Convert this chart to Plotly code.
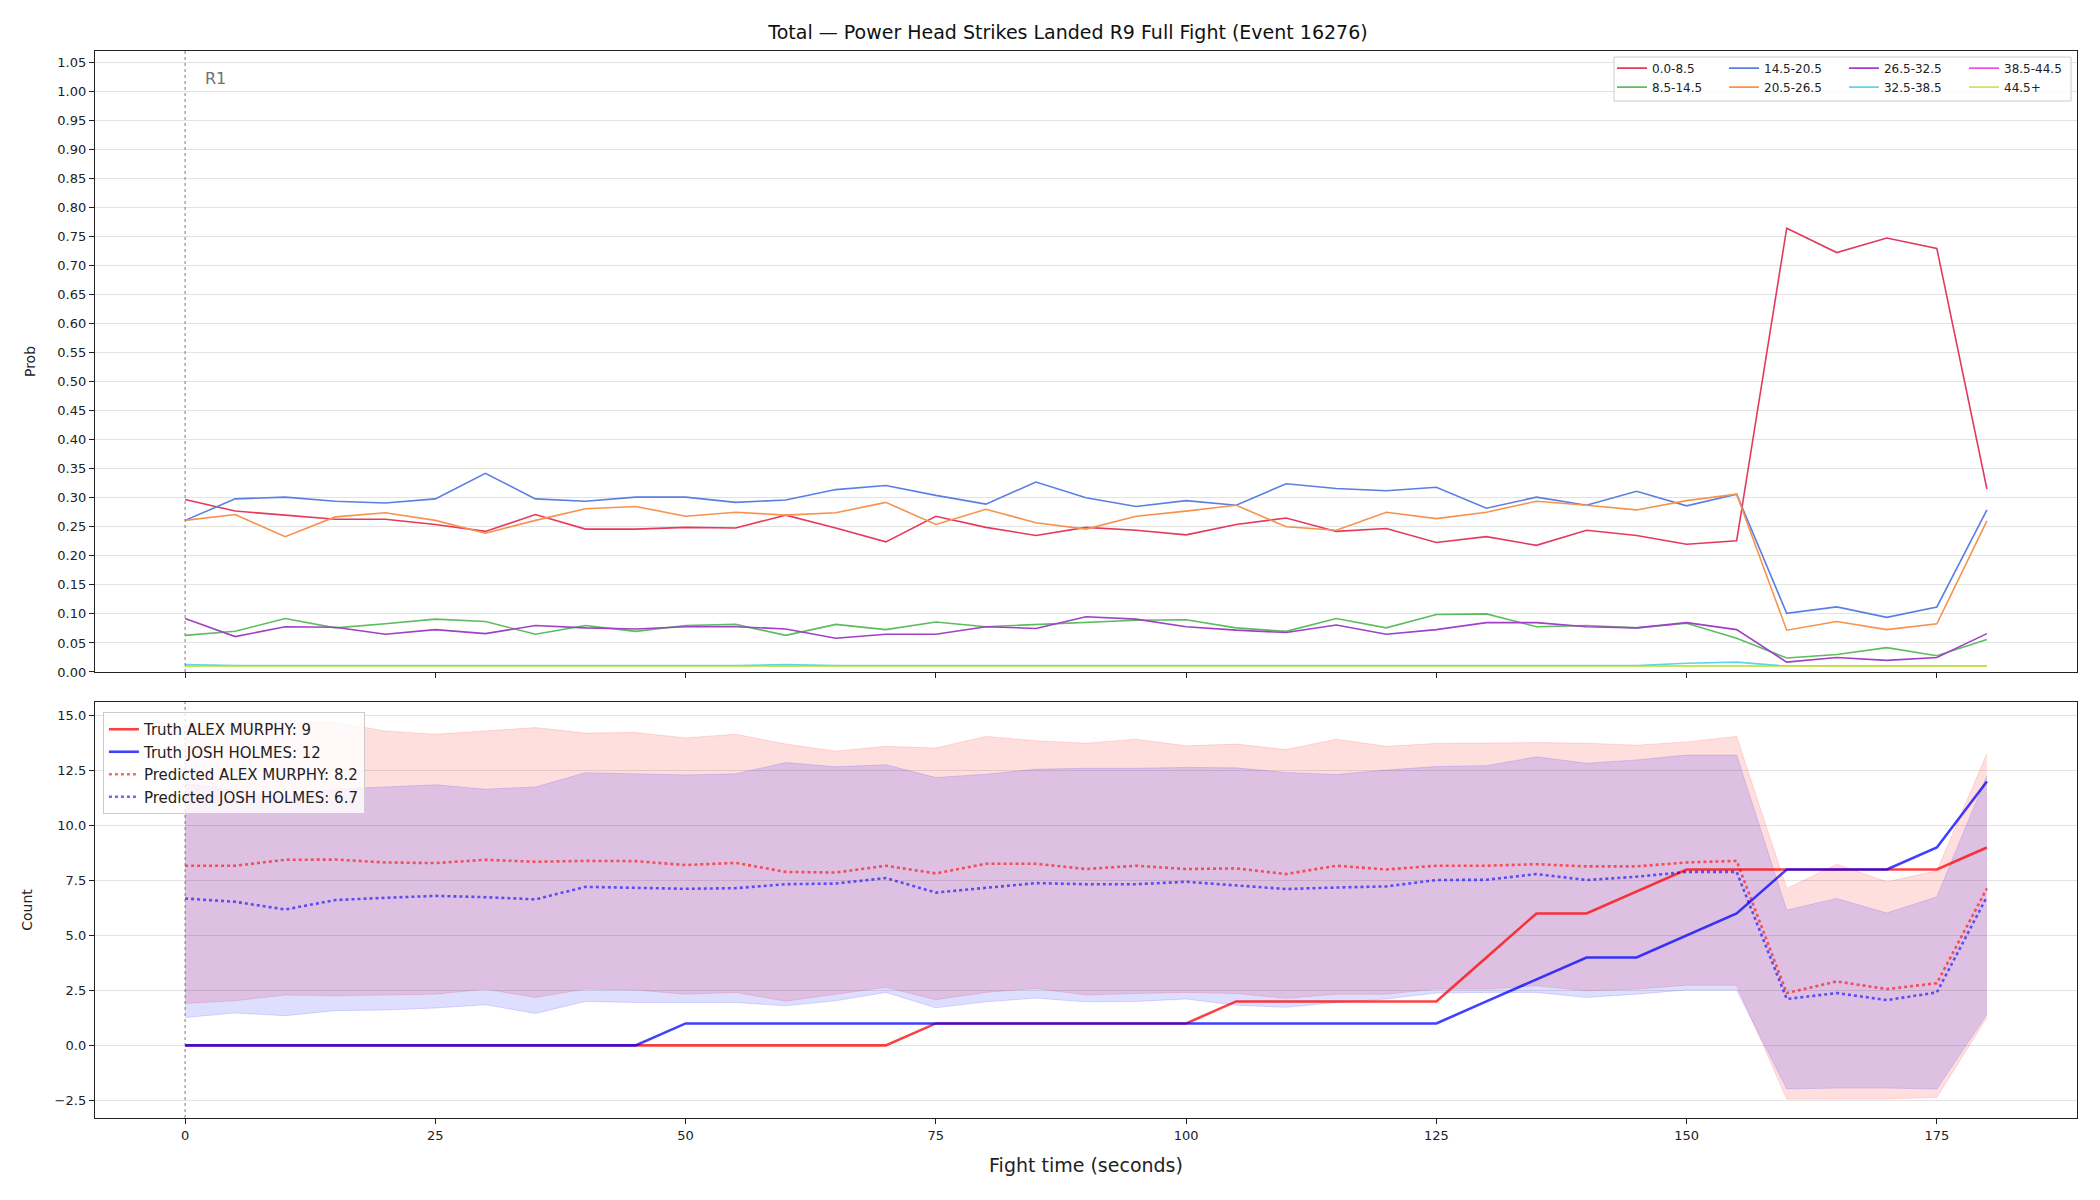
import plotly.graph_objects as go

# ---------------- data ----------------
time_s = list(range(0, 181, 5))

bin_labels = ["0.0-8.5", "8.5-14.5", "14.5-20.5", "20.5-26.5",
              "26.5-32.5", "32.5-38.5", "38.5-44.5", "44.5+"]

prob_0_8 = [0.297, 0.277, 0.270, 0.263, 0.263, 0.254, 0.242, 0.271, 0.246, 0.246, 0.249, 0.248, 0.270,
            0.248, 0.224, 0.268, 0.249, 0.235, 0.249, 0.244, 0.236, 0.254, 0.265, 0.242, 0.247, 0.223,
            0.233, 0.218, 0.244, 0.235, 0.220, 0.226, 0.764, 0.722, 0.747, 0.729, 0.315]
prob_8_14 = [0.063, 0.070, 0.092, 0.076, 0.083, 0.091, 0.087, 0.065, 0.080, 0.070, 0.080, 0.082, 0.063,
             0.082, 0.073, 0.086, 0.078, 0.082, 0.085, 0.089, 0.090, 0.076, 0.070, 0.092, 0.076, 0.099,
             0.100, 0.078, 0.080, 0.076, 0.084, 0.058, 0.024, 0.030, 0.042, 0.028, 0.056]
prob_14_20 = [0.261, 0.298, 0.301, 0.294, 0.291, 0.298, 0.342, 0.298, 0.294, 0.301, 0.301, 0.292, 0.296,
              0.314, 0.321, 0.304, 0.289, 0.327, 0.300, 0.285, 0.295, 0.287, 0.324, 0.316, 0.312, 0.318,
              0.282, 0.301, 0.287, 0.311, 0.286, 0.306, 0.101, 0.112, 0.094, 0.112, 0.279]
prob_20_26 = [0.261, 0.271, 0.233, 0.267, 0.274, 0.261, 0.239, 0.261, 0.281, 0.285, 0.268, 0.275, 0.270,
              0.274, 0.292, 0.254, 0.280, 0.257, 0.246, 0.268, 0.277, 0.287, 0.250, 0.244, 0.275, 0.264,
              0.275, 0.294, 0.287, 0.279, 0.295, 0.306, 0.072, 0.087, 0.073, 0.083, 0.260]
prob_26_32 = [0.092, 0.061, 0.078, 0.077, 0.065, 0.073, 0.066, 0.080, 0.076, 0.074, 0.078, 0.078, 0.074,
              0.058, 0.065, 0.065, 0.078, 0.075, 0.095, 0.091, 0.078, 0.072, 0.068, 0.081, 0.065, 0.073,
              0.085, 0.085, 0.078, 0.076, 0.085, 0.073, 0.017, 0.025, 0.020, 0.025, 0.066]
prob_32_38 = [0.013, 0.011, 0.011, 0.011, 0.011, 0.011, 0.011, 0.011, 0.011, 0.011, 0.011, 0.011, 0.013,
              0.011, 0.011, 0.011, 0.011, 0.011, 0.011, 0.011, 0.011, 0.011, 0.011, 0.011, 0.011, 0.011,
              0.011, 0.011, 0.011, 0.011, 0.015, 0.017, 0.010, 0.010, 0.010, 0.010, 0.010]
prob_38_44 = [0.010] * 37
prob_44_plus = [0.010] * 37

prob_series = [prob_0_8, prob_8_14, prob_14_20, prob_20_26, prob_26_32, prob_32_38, prob_38_44, prob_44_plus]
bin_colors = ["#e6395f", "#5cbd5f", "#5b7ee3", "#f7924c", "#a23fc9", "#5dd5ee", "#f251ea", "#c8e85c"]

truth_murphy = [0] * 15 + [1] * 6 + [2] * 5 + [4, 6, 6, 7] + [8] * 6 + [9]
truth_holmes = [0] * 10 + [1] * 16 + [2, 3, 4, 4, 5, 6, 8, 8, 8, 9, 12]

pred_murphy = [8.17, 8.17, 8.44, 8.45, 8.32, 8.29, 8.44, 8.35, 8.39, 8.38, 8.20, 8.30, 7.89,
               7.86, 8.17, 7.82, 8.26, 8.26, 8.02, 8.17, 8.02, 8.05, 7.79, 8.17, 8.00, 8.17,
               8.17, 8.24, 8.14, 8.14, 8.32, 8.39, 2.38, 2.91, 2.56, 2.83, 7.14]
pred_holmes = [6.68, 6.53, 6.18, 6.61, 6.71, 6.80, 6.74, 6.64, 7.21, 7.15, 7.12, 7.15, 7.33,
               7.36, 7.61, 6.95, 7.18, 7.38, 7.33, 7.33, 7.44, 7.26, 7.11, 7.18, 7.23, 7.52,
               7.53, 7.79, 7.52, 7.67, 7.89, 7.89, 2.11, 2.38, 2.06, 2.41, 6.76]

murphy_hi = [14.6, 14.7, 14.7, 14.68, 14.3, 14.15, 14.3, 14.45, 14.2, 14.23, 13.98, 14.15, 13.7,
             13.38, 13.6, 13.52, 14.05, 13.85, 13.74, 13.92, 13.62, 13.7, 13.45, 13.92, 13.6, 13.73,
             13.75, 13.77, 13.74, 13.65, 13.8, 14.05, 7.14, 8.24, 7.44, 7.94, 13.27]
murphy_lo = [1.91, 2.03, 2.29, 2.26, 2.29, 2.33, 2.56, 2.18, 2.56, 2.52, 2.33, 2.41, 2.01,
             2.33, 2.64, 2.08, 2.41, 2.59, 2.29, 2.36, 2.41, 2.36, 2.14, 2.33, 2.33, 2.56,
             2.56, 2.71, 2.48, 2.56, 2.74, 2.74, -2.44, -2.44, -2.44, -2.36, 1.27]
holmes_hi = [11.9, 11.6, 11.3, 11.65, 11.75, 11.85, 11.65, 11.75, 12.4, 12.35, 12.3, 12.35, 12.86,
             12.67, 12.76, 12.18, 12.33, 12.56, 12.6, 12.6, 12.64, 12.62, 12.41, 12.32, 12.52, 12.68,
             12.72, 13.12, 12.83, 12.98, 13.2, 13.2, 6.15, 6.68, 6.02, 6.76, 12.26]
holmes_lo = [1.27, 1.47, 1.35, 1.58, 1.61, 1.70, 1.85, 1.45, 2.00, 1.95, 1.95, 1.95, 1.80,
             2.03, 2.41, 1.71, 1.98, 2.15, 1.98, 2.00, 2.11, 1.83, 1.73, 1.95, 2.11, 2.38,
             2.41, 2.41, 2.18, 2.33, 2.52, 2.52, -1.98, -1.94, -1.94, -1.98, 1.42]

legend_names = ["Truth ALEX MURPHY: 9", "Truth JOSH HOLMES: 12",
                "Predicted ALEX MURPHY: 8.2", "Predicted JOSH HOLMES: 6.7"]

x_ticks = [0, 25, 50, 75, 100, 125, 150, 175]

# ---------------- figure ----------------
FONT = "DejaVu Sans"
fig = go.Figure()

# top panel: probability per bin
for i, (lab, ys, col) in enumerate(zip(bin_labels, prob_series, bin_colors)):
    fig.add_trace(go.Scatter(
        x=time_s, y=ys, mode="lines", name=lab,
        line=dict(color=col, width=1.6),
        xaxis="x", yaxis="y",
        legend="legend" + str(i // 2 + 2),
    ))

# bottom panel: bands
RED_FILL = "rgba(255,0,0,0.13)"
BLUE_FILL = "rgba(0,0,255,0.13)"
fig.add_trace(go.Scatter(x=time_s, y=murphy_lo, mode="lines", line=dict(color=RED_FILL, width=1),
                         showlegend=False, xaxis="x2", yaxis="y2"))
fig.add_trace(go.Scatter(x=time_s, y=murphy_hi, mode="lines", line=dict(color=RED_FILL, width=1),
                         fill="tonexty", fillcolor=RED_FILL, showlegend=False, xaxis="x2", yaxis="y2"))
fig.add_trace(go.Scatter(x=time_s, y=holmes_lo, mode="lines", line=dict(color=BLUE_FILL, width=1),
                         showlegend=False, xaxis="x2", yaxis="y2"))
fig.add_trace(go.Scatter(x=time_s, y=holmes_hi, mode="lines", line=dict(color=BLUE_FILL, width=1),
                         fill="tonexty", fillcolor=BLUE_FILL, showlegend=False, xaxis="x2", yaxis="y2"))

fig.add_trace(go.Scatter(x=time_s, y=truth_murphy, mode="lines", name=legend_names[0],
                         line=dict(color="rgba(255,0,0,0.75)", width=2.6), xaxis="x2", yaxis="y2",
                         legend="legend", legendrank=1))
fig.add_trace(go.Scatter(x=time_s, y=truth_holmes, mode="lines", name=legend_names[1],
                         line=dict(color="rgba(0,0,255,0.75)", width=2.6), xaxis="x2", yaxis="y2",
                         legend="legend", legendrank=2))
fig.add_trace(go.Scatter(x=time_s, y=pred_murphy, mode="lines", name=legend_names[2],
                         line=dict(color="rgba(255,0,0,0.6)", width=2.6, dash="dot"), xaxis="x2", yaxis="y2",
                         legend="legend", legendrank=3))
fig.add_trace(go.Scatter(x=time_s, y=pred_holmes, mode="lines", name=legend_names[3],
                         line=dict(color="rgba(0,0,255,0.6)", width=2.6, dash="dot"), xaxis="x2", yaxis="y2",
                         legend="legend", legendrank=4))

axis_common = dict(showline=True, mirror=True, linecolor="#222222", linewidth=1.4,
                   ticks="outside", ticklen=5, tickwidth=1.2, tickcolor="#222222",
                   tickfont=dict(family=FONT, size=13, color="#222222"), zeroline=False)

top_legend_x = [0.7654, 0.8219, 0.8824, 0.9430]
legend_top = dict(orientation="v", yanchor="top", xanchor="left", y=0.9975,
                  bgcolor="rgba(0,0,0,0)", borderwidth=0, tracegroupgap=0, traceorder="normal",
                  font=dict(family=FONT, size=12, color="#222222"))

fig.update_layout(
    width=2100, height=1200,
    margin=dict(l=95, r=23, t=51, b=82),
    paper_bgcolor="white", plot_bgcolor="white",
    font=dict(family=FONT, color="#222222"),
    title=dict(text="Total — Power Head Strikes Landed R9 Full Fight (Event 16276)",
               x=1068 / 2100, xanchor="center", xref="container",
               y=1 - 32 / 1200, yanchor="middle", yref="container",
               font=dict(family=FONT, size=19, color="#111111")),
    xaxis=dict(domain=[0, 1], anchor="y", range=[-9, 189], tickvals=x_ticks,
               showticklabels=False, showgrid=False, **axis_common),
    yaxis=dict(domain=[0.418, 1], anchor="x", range=[0, 1.069], dtick=0.05, tick0=0,
               tickformat=".2f", showgrid=True, gridcolor="#e3e3e3", gridwidth=1,
               title=dict(text="Prob", font=dict(family=FONT, size=14), standoff=18),
               **axis_common),
    xaxis2=dict(domain=[0, 1], anchor="y2", matches="x", range=[-9, 189], tickvals=x_ticks,
                showgrid=False,
                title=dict(text="Fight time (seconds)", font=dict(family=FONT, size=19), standoff=16),
                **axis_common),
    yaxis2=dict(domain=[0, 0.390], anchor="x2", range=[-3.3, 15.62], dtick=2.5, tick0=0,
                tickformat=".1f", showgrid=True, gridcolor="#e3e3e3", gridwidth=1,
                title=dict(text="Count", font=dict(family=FONT, size=14), standoff=18),
                **axis_common),
    legend=dict(x=0.004, y=0.3805, xanchor="left", yanchor="top", orientation="v",
                bgcolor="rgba(255,255,255,0.8)", bordercolor="#cccccc", borderwidth=1,
                traceorder="normal",
                font=dict(family=FONT, size=15, color="#222222"), tracegroupgap=0),
    legend2=dict(x=top_legend_x[0], **legend_top),
    legend3=dict(x=top_legend_x[1], **legend_top),
    legend4=dict(x=top_legend_x[2], **legend_top),
    legend5=dict(x=top_legend_x[3], **legend_top),
    showlegend=True,
)

# legend frame for top panel
fig.add_shape(type="rect", xref="paper", yref="paper",
              x0=(1614 - 95) / 1982, x1=(2071 - 95) / 1982,
              y0=(1118 - 101) / 1067, y1=(1118 - 57) / 1067,
              line=dict(color="#cccccc", width=1), fillcolor="rgba(255,255,255,0.8)", layer="above")

# round start markers
for xr, yr in (("x", "y domain"), ("x2", "y2 domain")):
    fig.add_shape(type="line", xref=xr, yref=yr, x0=0, x1=0, y0=0, y1=1,
                  line=dict(color="rgba(90,90,90,0.8)", width=1, dash="dot"), layer="above")

fig.add_annotation(text="R1", xref="x", yref="y domain", x=1.8, y=0.955,
                   xanchor="left", yanchor="middle", showarrow=False,
                   font=dict(family=FONT, size=16, color="#707070"))

fig.write_html("out.html")
